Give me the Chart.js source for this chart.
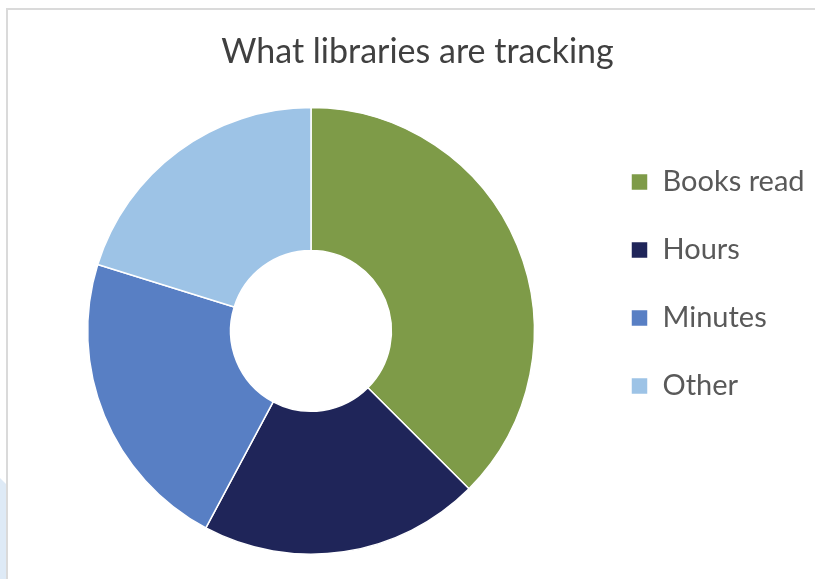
<!DOCTYPE html>
<html>
<head>
<meta charset="utf-8">
<script src="https://cdn.jsdelivr.net/npm/chart.js@4"></script>
<style>
  html, body { margin: 0; padding: 0; background: #fff; width: 815px; height: 579px; overflow: hidden; }
  #frame { position: absolute; left: 6px; top: 8px; width: 900px; height: 700px;
           border-top: 2px solid #DADADA; border-left: 2px solid #DADADA; }
  #deco { position: absolute; left: 0; top: 478px; width: 6px; height: 101px; background: #DEEAF6;
          clip-path: polygon(0 0, 100% 6px, 100% 100%, 0 100%); }
  #wrap { position: absolute; left: 0; top: 0; width: 815px; height: 579px; }
</style>
</head>
<body>
<div id="deco"></div>
<div id="frame"></div>
<div id="wrap"><canvas id="c"></canvas></div>
<script>
const chartTitle = "What libraries are tracking";
const categories = ["Books read", "Hours", "Minutes", "Other"];
const shares = [37.5, 20.3, 22.0, 20.2];
const sliceColors = ["#7E9B48", "#1F2559", "#587FC4", "#9DC3E6"];

new Chart(document.getElementById("c"), {
  type: "doughnut",
  data: {
    labels: categories,
    datasets: [{
      data: shares,
      backgroundColor: sliceColors,
      borderColor: "#ffffff",
      borderWidth: 1.5,
      hoverOffset: 0
    }]
  },
  options: {
    responsive: true,
    maintainAspectRatio: false,
    animation: false,
    cutout: "36%",
    layout: { padding: { top: 13, bottom: 24, left: 30, right: 10 } },
    plugins: {
      title: {
        display: true,
        text: chartTitle,
        color: "#404040",
        font: { family: "Lato", size: 34, weight: "normal" },
        padding: { top: 19, bottom: 34 }
      },
      legend: {
        position: "right",
        align: "center",
        maxWidth: 213,
        labels: {
          boxWidth: 17,
          boxHeight: 17,
          padding: 39,
          color: "#595959",
          font: { family: "Lato", size: 29 }
        }
      },
      tooltip: { enabled: false }
    }
  }
});
</script>
</body>
</html>
